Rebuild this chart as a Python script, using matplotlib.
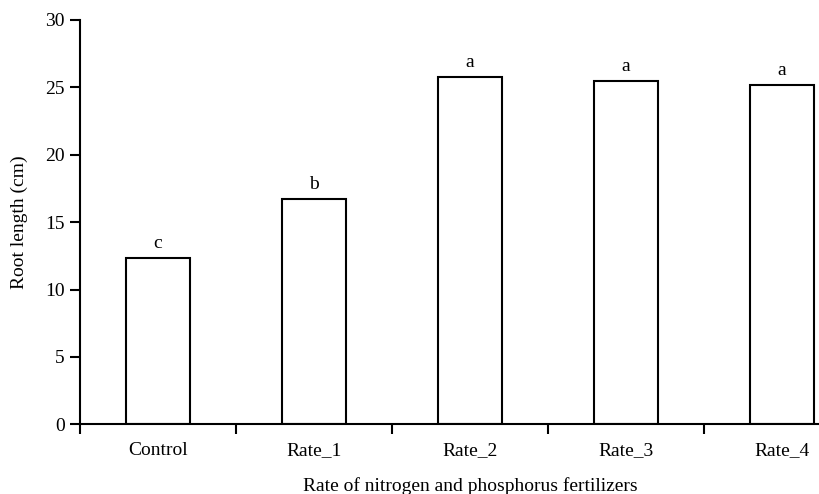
import numpy as np
import matplotlib as mpl
import matplotlib.pyplot as plt
mpl.use('Agg')
mpl.rcParams['font.family'] = ['Liberation Serif', 'DejaVu Serif']
mpl.rcParams['font.size'] = 14

categories = ["Control", "Rate_1", "Rate_2", "Rate_3", "Rate_4"]
root_length = [12.35, 16.75, 25.8, 25.45, 25.15]
letters = ["c", "b", "a", "a", "a"]

fig = plt.figure(figsize=(8.19, 4.94), dpi=100)
# axis runs past the right edge of the figure, like the original
ax = fig.add_axes([80/819, 69.7/494, 780/819, 404.3/494])

pts = np.arange(len(categories))
ax.bar(pts, root_length, width=0.41, color="white", edgecolor="black", linewidth=1.5)
for x, y, s in zip(pts, root_length, letters):
  ax.text(x, y + 0.45, s, ha="center", va="bottom", fontsize=14)

ax.set_xlim(-0.5, 4.5)
ax.set_ylim(0, 30)
ax.set_yticks([0, 5, 10, 15, 20, 25, 30])
ax.set_xticks(pts)
ax.set_xticklabels(categories)
ax.set_xticks(np.arange(-0.5, 5.0, 1.0), minor=True)
ax.tick_params(axis='x', which='major', length=0, pad=13)
ax.tick_params(axis='x', which='minor', length=7, width=1.5, direction='out')
ax.tick_params(axis='y', length=7, width=1.5, direction='out', pad=4)
for side in ["top", "right"]:
  ax.spines[side].set_visible(False)
for side in ["left", "bottom"]:
  ax.spines[side].set_linewidth(1.5)

ax.set_ylabel("Root length (cm)", labelpad=12)
ax.set_xlabel("Rate of nitrogen and phosphorus fertilizers", labelpad=13)
fig.savefig("out.png", dpi=100)
plt.close(fig)
